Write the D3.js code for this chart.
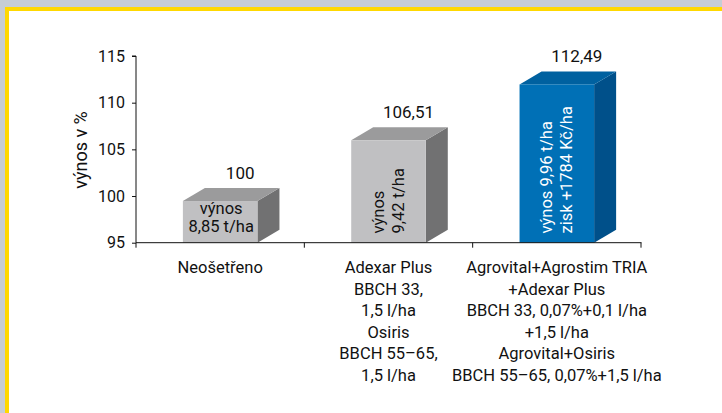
<!DOCTYPE html>
<html>
<head>
<meta charset="utf-8">
<script src="https://cdn.jsdelivr.net/npm/d3@7"></script>
<style>
  body { margin: 0; background: #c6cdd4; }
  svg { display: block; }
  text { font-family: Roboto, "Open Sans", sans-serif; fill: #111; }
</style>
</head>
<body>
<script>
// data
var categories = ["Neošetřeno", "Adexar Plus", "Agrovital"];
var values = [100, 106.51, 112.49];
var valueLabels = ["100", "106,51", "112,49"];
var catLabels = [
  ["Neošetřeno"],
  ["Adexar Plus", "BBCH 33,", "1,5 l/ha", "Osiris", "BBCH 55–65,", "1,5 l/ha"],
  ["Agrovital+Agrostim TRIA", "+Adexar Plus", "BBCH 33, 0,07%+0,1 l/ha", "+1,5 l/ha", "Agrovital+Osiris", "BBCH 55–65, 0,07%+1,5 l/ha"]
];
var innerLabels = [
  ["výnos", "8,85 t/ha"],
  ["výnos", "9,42 t/ha"],
  ["výnos 9,96 t/ha", "zisk +1784 Kč/ha"]
];
var yTicks = [95, 100, 105, 110, 115];

var width = 722, height = 413;
var dx = 22, dy = 13;

var svg = d3.select("body").append("svg")
  .attr("width", width)
  .attr("height", height);

// frame
svg.append("rect").attr("x", 0).attr("y", 0).attr("width", width).attr("height", height).attr("fill", "#c6cdd4");
svg.append("rect").attr("x", 7).attr("y", 9).attr("width", width + 20).attr("height", height + 20)
  .attr("fill", "#fff").attr("stroke", "#ffd800").attr("stroke-width", 4);

var x = d3.scaleBand()
  .domain(categories)
  .range([136, 641])
  .paddingInner(0.557)
  .paddingOuter(0.2785);

var y = d3.scaleLinear().domain([95, 115]).range([242.7, 56]);

var colors = [
  { front: "#c0c0c2", top: "#9b9b9c", side: "#717172", text: "#111", rot: false },
  { front: "#c0c0c2", top: "#9b9b9c", side: "#717172", text: "#111", rot: true },
  { front: "#0070b6", top: "#0061a0", side: "#00508a", text: "#ffffff", rot: true }
];

var base = y(95);

// bars
var bars = svg.append("g").selectAll("g")
  .data(values)
  .enter().append("g");

bars.each(function (v, i) {
  var g = d3.select(this);
  var x0 = x(categories[i]), w = x.bandwidth();
  var ft = y(v) + 5;   // front top
  var c = colors[i];
  // side
  g.append("path")
    .attr("d", "M" + (x0 + w) + "," + base + "L" + (x0 + w) + "," + ft + "L" + (x0 + w + dx) + "," + (ft - dy) +
      "L" + (x0 + w + dx) + "," + (base - dy) + "Z")
    .attr("fill", c.side);
  // top
  g.append("path")
    .attr("d", "M" + x0 + "," + ft + "L" + (x0 + dx) + "," + (ft - dy) + "L" + (x0 + w + dx) + "," + (ft - dy) +
      "L" + (x0 + w) + "," + ft + "Z")
    .attr("fill", c.top);
  // front
  g.append("rect")
    .attr("x", x0).attr("y", ft).attr("width", w).attr("height", base - ft)
    .attr("fill", c.front);

  // value label
  g.append("text")
    .attr("x", x0 + dx + w / 2 - 2)
    .attr("y", ft - dy - 9)
    .attr("text-anchor", "middle")
    .style("font-size", "17px")
    .text(valueLabels[i]);

  // inner label
  var lines = innerLabels[i];
  if (!c.rot) {
    g.selectAll("text.in").data(lines).enter().append("text")
      .attr("class", "in")
      .attr("x", x0 + w / 2 + 1)
      .attr("y", function (d, j) { return 214 + j * 18; })
      .attr("text-anchor", "middle")
      .style("font-size", "16.5px")
      .text(function (d) { return d; });
  } else {
    var cx = x0 + w / 2 - 1;
    g.selectAll("text.in").data(lines).enter().append("text")
      .attr("class", "in")
      .attr("transform", function (d, j) {
        return "translate(" + (cx - 4 + j * 20) + "," + 233.5 + ") rotate(-90)";
      })
      .attr("text-anchor", "start")
      .style("font-size", "16.5px")
      .style("fill", c.text)
      .text(function (d) { return d; });
  }
});

// y axis
var yAxis = svg.append("g")
  .attr("transform", "translate(136,0)")
  .call(d3.axisLeft(y).tickValues(yTicks).tickSize(4).tickPadding(7).tickFormat(d3.format("d")));
yAxis.select(".domain").attr("stroke", "#111").attr("d", "M-4," + y(115) + "H0V" + base);
yAxis.selectAll(".tick line").attr("stroke", "#111");
yAxis.selectAll(".tick text").style("font-size", "16px").attr("fill", "#111");

// x axis
var xTicks = d3.range(0, categories.length + 1).map(function (i) { return 136 + i * x.step(); });
svg.append("line")
  .attr("x1", 136).attr("x2", 641.5).attr("y1", base).attr("y2", base)
  .attr("stroke", "#111");
svg.append("g").selectAll("line")
  .data(xTicks)
  .enter().append("line")
  .attr("x1", function (d) { return d; }).attr("x2", function (d) { return d; })
  .attr("y1", base).attr("y2", base + 5)
  .attr("stroke", "#111");

// category labels
var cat = svg.append("g").selectAll("g")
  .data(catLabels)
  .enter().append("g");
cat.each(function (lines, i) {
  var cx = 136 + (i + 0.5) * x.step();
  d3.select(this).selectAll("text").data(lines).enter().append("text")
    .attr("x", cx)
    .attr("y", function (d, j) { return 273 + j * 21.6; })
    .attr("text-anchor", "middle")
    .style("font-size", "16.5px")
    .text(function (d) { return d; });
});

// y title
svg.append("text")
  .attr("transform", "translate(87,150) rotate(-90)")
  .attr("text-anchor", "middle")
  .style("font-size", "18px")
  .text("výnos v %");
</script>
</body>
</html>
